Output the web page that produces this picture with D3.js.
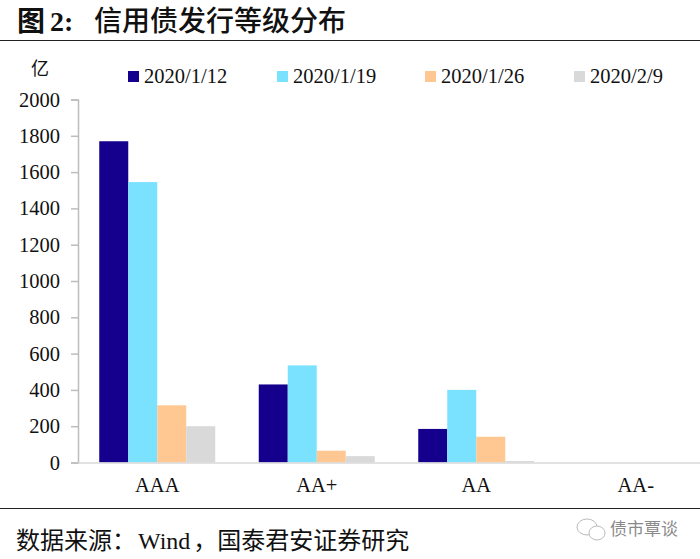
<!DOCTYPE html>
<html><head><meta charset="utf-8">
<script src="https://cdn.jsdelivr.net/npm/d3@7"></script>
<style>html,body{margin:0;padding:0;background:#fff}svg{display:block}</style></head>
<body><svg id="c" width="700" height="559"></svg>
<script>
const categories=["AAA","AA+","AA","AA-"];
const seriesNames=["2020/1/12","2020/1/19","2020/1/26","2020/2/9"];
const v0112=[1770,430,185,0];
const v0119=[1545,535,400,0];
const v0126=[315,65,142,0];
const v0209=[200,35,8,0];
const colors=["#14008c","#7ae2ff","#ffc791","#d9d9d9"];
const yTicks=[0,200,400,600,800,1000,1200,1400,1600,1800,2000];
const allSeries=[v0112,v0119,v0126,v0209];

const serif='"Liberation Serif","Noto Sans CJK SC",serif';
const cjk='"Noto Sans CJK SC",serif';
const svg=d3.select("#c");
const y=d3.scaleLinear().domain([0,2000]).range([462.5,99.5]);
const x=d3.scaleBand().domain(categories).range([77.5,715.5]).paddingInner(0).paddingOuter(0);
const barW=29;
const inner=d3.scaleBand().domain(d3.range(4)).range([x.bandwidth()/2-2*barW,x.bandwidth()/2+2*barW]);

// header
svg.append("text").attr("x",17).attr("y",31).attr("font-family",cjk).attr("font-weight",700)
  .attr("font-size",28).attr("fill","#111").text("图");
svg.append("text").attr("x",50).attr("y",31).attr("font-family",'"Liberation Serif",serif').attr("font-weight",700)
  .attr("font-size",28).attr("fill","#111").text("2:");
svg.append("text").attr("x",94).attr("y",31).attr("font-family",cjk).attr("font-weight",500)
  .attr("font-size",28).attr("fill","#111").text("信用债发行等级分布");
svg.append("line").attr("x1",0).attr("x2",700).attr("y1",40.5).attr("y2",40.5).attr("stroke","#222").attr("stroke-width",1.2);

// unit
svg.append("text").attr("x",31).attr("y",75).attr("font-family",cjk).attr("font-size",18).attr("fill","#111").text("亿");

// legend
const legendX=[128,277,425,574];
seriesNames.forEach((n,i)=>{
  svg.append("rect").attr("x",legendX[i]).attr("y",71).attr("width",11).attr("height",11).attr("fill",colors[i]);
  svg.append("text").attr("x",legendX[i]+16).attr("y",83).attr("font-family",serif).attr("font-size",20.5).attr("fill","#111").text(n);
});

// bars
allSeries.forEach((vals,si)=>{
  svg.append("g").selectAll("rect").data(vals).join("rect")
    .attr("x",(d,i)=>x(categories[i])+inner(si)).attr("width",inner.bandwidth())
    .attr("y",d=>y(d)).attr("height",d=>y(0)-y(d)).attr("fill",colors[si]);
});

// axes
const yAxis=d3.axisLeft(y).tickValues(yTicks).tickSize(7).tickPadding(11).tickFormat(d3.format("d"));
const gy=svg.append("g").attr("transform","translate(78,0)").call(yAxis);
gy.selectAll("path,line").attr("stroke","#bdbdbd").attr("stroke-width",1.5);
gy.selectAll("text").attr("font-family",serif).attr("font-size",20.5).attr("fill","#111").attr("dy","0.32em");
const xAxis=d3.axisBottom(x).tickSize(0).tickPadding(15);
const gx=svg.append("g").attr("transform","translate(0,462.5)").call(xAxis);
gx.selectAll("path").attr("stroke","#d9d9d9").attr("stroke-width",1.5);
gx.selectAll("text").attr("font-family",serif).attr("font-size",20.5).attr("fill","#111").attr("dy","0.71em");

// footer
svg.append("line").attr("x1",0).attr("x2",700).attr("y1",508.5).attr("y2",508.5).attr("stroke","#222").attr("stroke-width",1.2);
const src=svg.append("text").attr("x",16).attr("y",549).attr("font-size",24).attr("fill","#111").attr("font-family",cjk);
src.append("tspan").text("数据来源\uFF1A");
src.append("tspan").attr("dx",2).attr("font-family",'"Liberation Serif",serif').text("Wind");
src.append("tspan").attr("dx",3).text("\uFF0C国泰君安证券研究");
svg.append("text").attr("x",610).attr("y",535).attr("font-family",'"Noto Sans CJK SC",sans-serif').attr("font-size",17).attr("fill","#8a8a8a").text("债市覃谈");
// wechat mark
const wx=svg.append("g").attr("fill","#fff").attr("stroke","#bbb").attr("stroke-width",1);
wx.append("ellipse").attr("cx",587).attr("cy",527).attr("rx",10).attr("ry",8);
wx.append("ellipse").attr("cx",597).attr("cy",533).attr("rx",8).attr("ry",7);
</script></body></html>
